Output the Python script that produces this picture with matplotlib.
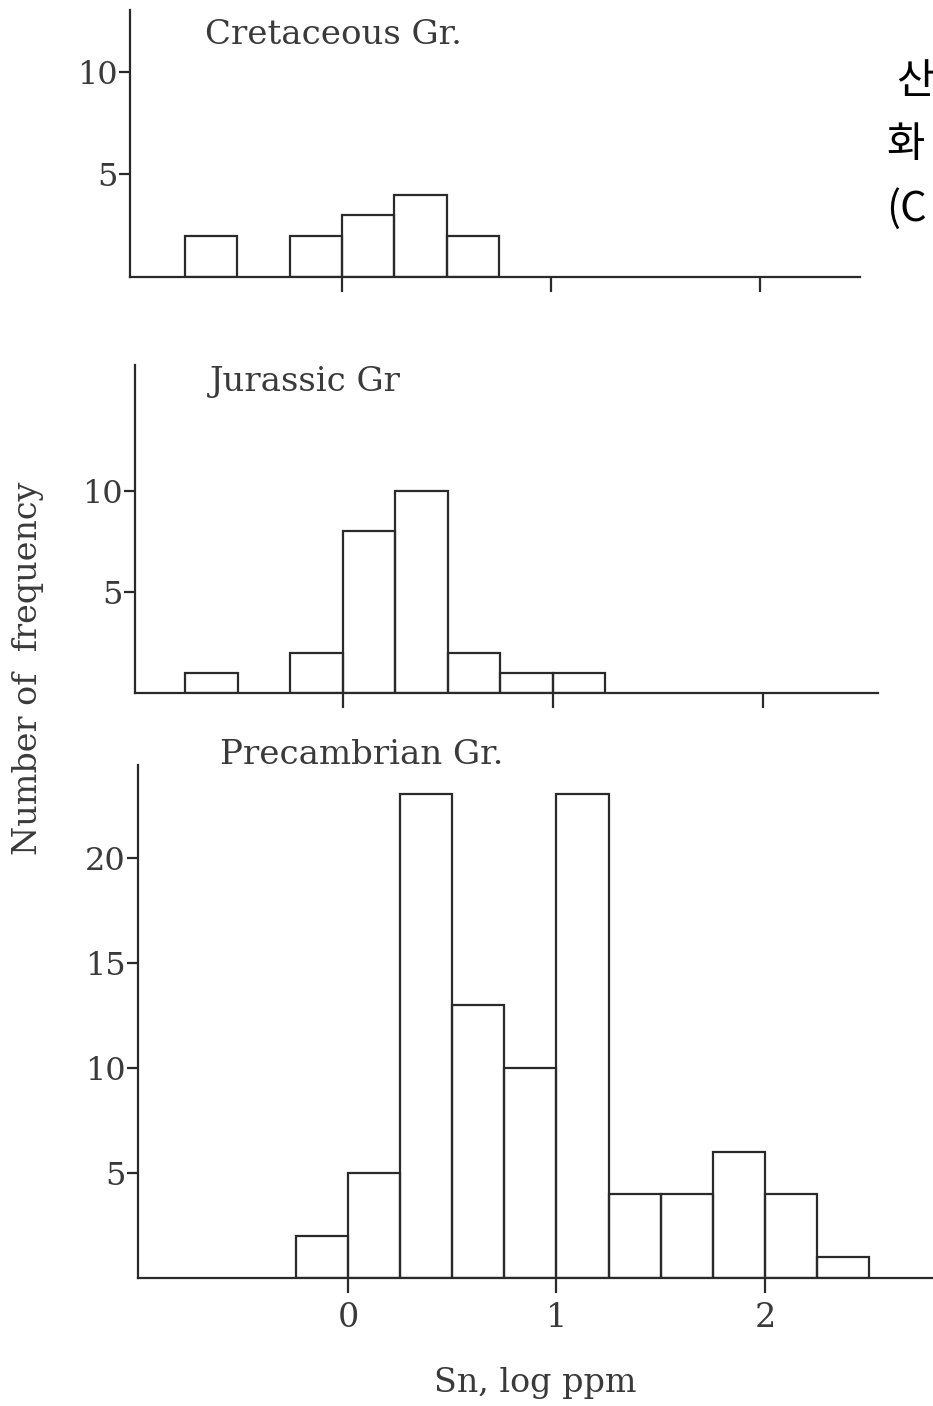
import matplotlib
matplotlib.use("Agg")
import matplotlib.pyplot as plt

# ---- data ----
bin_width = 0.25
cret_left = [-0.75, -0.25, 0.0, 0.25, 0.5]
cret_counts = [2, 2, 3, 4, 2]
jur_left = [-0.75, -0.25, 0.0, 0.25, 0.5, 0.75, 1.0]
jur_counts = [1, 2, 8, 10, 2, 1, 1]
pre_left = [-0.25, 0.0, 0.25, 0.5, 0.75, 1.0, 1.25, 1.5, 1.75, 2.0, 2.25]
pre_counts = [2, 5, 23, 13, 10, 23, 4, 4, 6, 4, 1]
panel_titles = ["Cretaceous Gr.", "Jurassic Gr", "Precambrian Gr."]
x_ticks = [0, 1, 2]
x_ticklabels = ["0", "1", "2"]
xlabel = "Sn, log ppm"
ylabel = "Number of  frequency"
side_text = ["산", "화", "(C"]

W, H = 933, 1406
fig = plt.figure(figsize=(W / 100, H / 100), dpi=100)
fig.patch.set_facecolor("white")

serif = ["DejaVu Serif"]
ink = "#2a2a2a"
txt = "#3a3a3a"
lw = 1.6


def px_axes(left, right, bottom, top):
    return fig.add_axes([left / W, 1 - bottom / H, (right - left) / W, (bottom - top) / H])


def style(ax, yticks, show_xlabels):
    for s in ["top", "right"]:
        ax.spines[s].set_visible(False)
    for s in ["left", "bottom"]:
        ax.spines[s].set_linewidth(lw)
        ax.spines[s].set_color(ink)
    ax.set_yticks(yticks)
    ax.set_yticklabels([str(t) for t in yticks], fontfamily=serif, fontsize=23,
                       color=txt)
    ax.set_xticks(x_ticks)
    if show_xlabels:
        ax.set_xticklabels(x_ticklabels, fontfamily=serif, fontsize=24, color=txt)
    else:
        ax.set_xticklabels([])
    ax.tick_params(axis="y", direction="out", length=8, width=lw, pad=1, colors=ink,
                   labelcolor=txt)
    ax.tick_params(axis="x", direction="out", length=11, width=lw, pad=6, colors=ink,
                   labelcolor=txt)
    ax.patch.set_alpha(0)


# top panel: Cretaceous
ax1 = px_axes(130, 860, 277, 10)
ax1.bar(cret_left, cret_counts, width=bin_width, align="edge", fill=False,
        edgecolor=ink, linewidth=lw)
ax1.set_xlim(-1.014, 2.478)
ax1.set_ylim(0, 13)
style(ax1, [5, 10], False)

# middle panel: Jurassic
ax2 = px_axes(135, 878, 693, 365)
ax2.bar(jur_left, jur_counts, width=bin_width, align="edge", fill=False,
        edgecolor=ink, linewidth=lw)
ax2.set_xlim(-0.99, 2.548)
ax2.set_ylim(0, 16.2)
style(ax2, [5, 10], False)

# bottom panel: Precambrian
ax3 = px_axes(138, 933, 1278, 765)
ax3.bar(pre_left, pre_counts, width=bin_width, align="edge", fill=False,
        edgecolor=ink, linewidth=lw)
ax3.set_xlim(-1.007, 2.806)
ax3.set_ylim(0, 24.4)
style(ax3, [5, 10, 15, 20], True)

# panel titles
for (t, x, y) in zip(panel_titles, [205, 210, 220], [35, 382, 755]):
    fig.text(x / W, 1 - y / H, t, fontfamily=serif, fontsize=24.5, color=txt,
             ha="left", va="center")

fig.text(535 / W, 1 - 1383 / H, xlabel, fontfamily=serif, fontsize=24, color=txt,
         ha="center", va="center")
fig.text(28 / W, 1 - 668 / H, ylabel, fontfamily=serif, fontsize=24, color=txt,
         ha="center", va="center", rotation=90)

# Korean annotation at top right
for (t, x, y) in zip(side_text, [896, 886, 886], [83, 146, 209]):
    fig.text(x / W, 1 - y / H, t, fontfamily=["Noto Sans CJK KR", "DejaVu Sans"],
             fontsize=30, color="#000000", ha="left", va="center")

fig.savefig("out.png", dpi=100, facecolor="white")
